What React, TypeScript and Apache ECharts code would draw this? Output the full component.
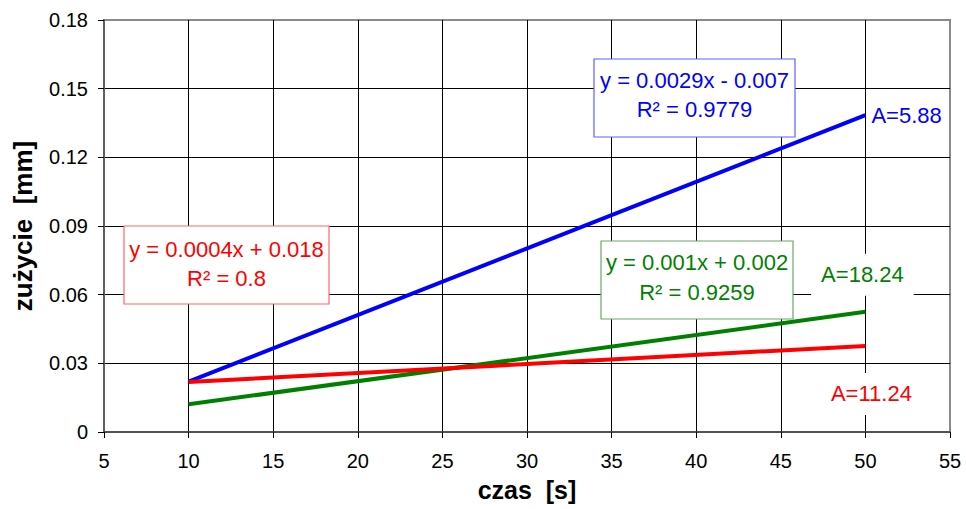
import React, { useEffect, useRef } from "react";
import * as echarts from "echarts";

const FONT = "'Liberation Sans', Arial, sans-serif";

const xTicks = { min: 5, max: 55, interval: 5 };
const yTicks = { min: 0, max: 0.18, interval: 0.03 };

const blueX = [10, 50];
const blueY = [0.022, 0.1384];
const greenX = [10, 50];
const greenY = [0.0121, 0.0525];
const redX = [10, 50];
const redY = [0.0218, 0.0376];

const endLabels = ["A=5.88", "A=18.24", "A=11.24"];
const equations = [
  ["y = 0.0029x - 0.007", "R\u00B2 = 0.9779"],
  ["y = 0.001x + 0.002", "R\u00B2 = 0.9259"],
  ["y = 0.0004x + 0.018", "R\u00B2 = 0.8"],
];

function buildData(xs: number[], ys: number[], label: any) {
  return xs.map((x, i) =>
    i === xs.length - 1 ? { value: [x, ys[i]], label } : { value: [x, ys[i]] }
  );
}

function eqBox(
  lines: string[],
  box: { x: number; y: number; w: number; h: number },
  ly: number[],
  color: string,
  border: string
) {
  const cx = box.x + box.w / 2;
  return [
    {
      type: "rect",
      z: 100,
      shape: { x: box.x, y: box.y, width: box.w, height: box.h },
      style: { fill: "#ffffff", stroke: border, lineWidth: 1.2 },
    },
    ...lines.map((t, i) => ({
      type: "text",
      z: 101,
      x: cx,
      y: ly[i],
      style: {
        text: t,
        fill: color,
        fontSize: 22,
        fontFamily: FONT,
        align: "center",
        verticalAlign: "middle",
      },
    })),
  ];
}

export default function App() {
  const ref = useRef<HTMLDivElement>(null);
  useEffect(() => {
    if (!ref.current) return;
    const chart = echarts.init(ref.current, null, { renderer: "svg" });
    const lbl = (text: string, color: string, extra: any) => ({
      show: true,
      formatter: text,
      color,
      fontSize: 22,
      fontFamily: FONT,
      ...extra,
    });
    chart.setOption({
      animation: false,
      backgroundColor: "#ffffff",
      grid: {
        left: 104,
        right: 16,
        top: 20,
        bottom: 77,
        containLabel: false,
        outerBoundsMode: "none",
        show: true,
        borderColor: "#8a8a8a",
        borderWidth: 2,
        backgroundColor: "transparent",
      },
      xAxis: {
        type: "value",
        min: xTicks.min,
        max: xTicks.max,
        interval: xTicks.interval,
        name: "czas  [s]",
        nameLocation: "middle",
        nameGap: 45,
        nameTextStyle: { fontSize: 25, fontWeight: "bold", color: "#000", fontFamily: FONT },
        axisLine: { show: true, onZero: false, lineStyle: { color: "#404040", width: 1.5 } },
        axisTick: { show: true, inside: false, length: 6, lineStyle: { color: "#000" } },
        axisLabel: { color: "#000", fontSize: 20, fontFamily: FONT, margin: 19 },
        splitLine: { show: true, showMinLine: false, showMaxLine: false, lineStyle: { color: "#000", width: 1 } },
      },
      yAxis: {
        type: "value",
        min: yTicks.min,
        max: yTicks.max,
        interval: yTicks.interval,
        name: "zużycie  [mm]",
        nameLocation: "middle",
        nameGap: 68,
        nameTextStyle: { fontSize: 26, fontWeight: "bold", color: "#000", fontFamily: FONT },
        axisLine: { show: true, lineStyle: { color: "#606060", width: 2 } },
        axisTick: { show: true, inside: false, length: 6, lineStyle: { color: "#000" } },
        axisLabel: {
          color: "#000",
          fontSize: 20,
          fontFamily: FONT,
          margin: 16,
          formatter: (v: number) => (v === 0 ? "0" : v.toFixed(2)),
        },
        splitLine: { show: true, showMinLine: false, showMaxLine: false, lineStyle: { color: "#000", width: 1 } },
      },
      series: [
        {
          type: "line",
          symbol: "circle",
          symbolSize: 0,
          showSymbol: true,
          lineStyle: { color: "#0000ff", width: 4 },
          itemStyle: { color: "#0000ff" },
          z: 5,
          data: buildData(blueX, blueY, lbl(endLabels[0], "#0000ff", { position: "right", distance: 6 })),
        },
        {
          type: "line",
          symbol: "circle",
          symbolSize: 0,
          showSymbol: true,
          lineStyle: { color: "#008000", width: 4 },
          itemStyle: { color: "#008000" },
          z: 5,
          data: buildData(
            greenX,
            greenY,
            lbl(endLabels[1], "#008000", {
              position: "inside",
              offset: [-3, -37],
              backgroundColor: "#ffffff",
              padding: [9, 10, 11, 10],
            })
          ),
        },
        {
          type: "line",
          symbol: "circle",
          symbolSize: 0,
          showSymbol: true,
          lineStyle: { color: "#ff0000", width: 4 },
          itemStyle: { color: "#ff0000" },
          z: 5,
          data: buildData(
            redX,
            redY,
            lbl(endLabels[2], "#ff0000", {
              position: "inside",
              offset: [6, 48],
              backgroundColor: "#ffffff",
              padding: [9, 10, 11, 10],
            })
          ),
        },
      ],
      graphic: [
        ...eqBox(equations[0], { x: 594, y: 59, w: 201, h: 78 }, [80, 109], "#0000ff", "#6060ff"),
        ...eqBox(equations[1], { x: 601, y: 241, w: 192, h: 78 }, [262, 292], "#008000", "#66aa66"),
        ...eqBox(equations[2], { x: 124, y: 226, w: 205, h: 78 }, [249, 278], "#ff0000", "#ff6666"),
      ],
    });
    return () => chart.dispose();
  }, []);
  return <div ref={ref} style={{ width: 966, height: 509, position: "absolute", left: 0, top: 0 }} />;
}
